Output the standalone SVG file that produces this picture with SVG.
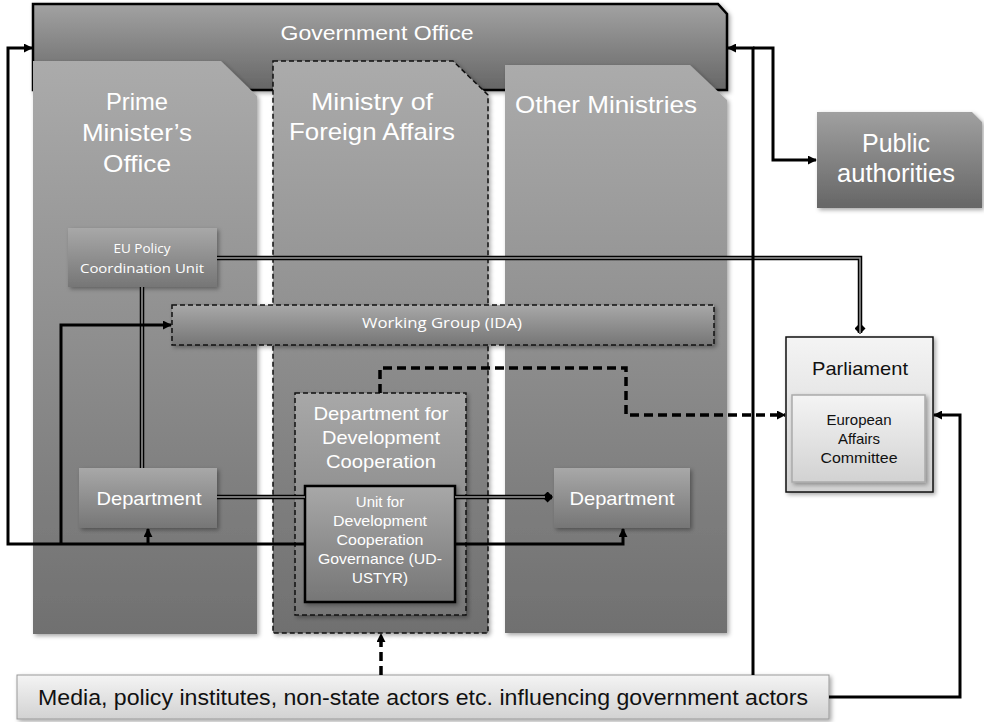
<svg xmlns="http://www.w3.org/2000/svg" width="984" height="722" viewBox="0 0 984 722">
<defs>
<linearGradient id="gGov" x1="0" y1="0" x2="0" y2="1"><stop offset="0" stop-color="#a2a2a2"/><stop offset="1" stop-color="#666"/></linearGradient>
<linearGradient id="gPanel" x1="0" y1="0" x2="0" y2="1"><stop offset="0" stop-color="#ababab"/><stop offset="1" stop-color="#707070"/></linearGradient>
<linearGradient id="gBox" x1="0" y1="0" x2="0" y2="1"><stop offset="0" stop-color="#a8a8a8"/><stop offset="1" stop-color="#767676"/></linearGradient>
<linearGradient id="gPub" x1="0" y1="0" x2="0" y2="1"><stop offset="0" stop-color="#a0a0a0"/><stop offset="1" stop-color="#666"/></linearGradient>
<linearGradient id="gLight" x1="0" y1="0" x2="0" y2="1"><stop offset="0" stop-color="#f4f4f4"/><stop offset="1" stop-color="#d2d2d2"/></linearGradient>
<filter id="sh" x="-10%" y="-10%" width="130%" height="130%"><feDropShadow dx="2" dy="2" stdDeviation="2" flood-color="#000" flood-opacity="0.35"/></filter>
<marker id="arr" viewBox="0 0 10 10" refX="9" refY="5" markerWidth="9" markerHeight="9" markerUnits="userSpaceOnUse" orient="auto"><path d="M0,0 L10,5 L0,10 Z" fill="#000"/></marker>
<marker id="dia" viewBox="0 0 10 10" refX="9" refY="5" markerWidth="11" markerHeight="11" markerUnits="userSpaceOnUse" orient="auto"><path d="M0,5 L5,0 L10,5 L5,10 Z" fill="#000"/></marker>
</defs>
<style>
.w{fill:#fff;font-family:"Liberation Sans",Arial,sans-serif;text-anchor:middle}
.k{fill:#111;font-family:"Liberation Sans",Arial,sans-serif;text-anchor:middle}
.c{fill:#fff;font-family:"Open Sans","Liberation Sans",sans-serif;text-anchor:middle}
.dash{stroke:#111;stroke-width:1.5;stroke-dasharray:5 3}
.ln{fill:none;stroke:#000;stroke-width:3}
.dl{fill:none;stroke:#000;stroke-width:4.5}
.dli{fill:none;stroke:#9c9c9c;stroke-width:1.5}
.dd{fill:none;stroke:#000;stroke-width:3.5;stroke-dasharray:9 5}
</style>

<g id="government-office">
<path d="M33,4 H718 L727,14 V90 H33 Z" fill="url(#gGov)" stroke="#000" stroke-width="2.5" filter="url(#sh)"/>
<text class="w" x="377" y="40" font-size="21" textLength="193" lengthAdjust="spacingAndGlyphs">Government Office</text>
</g>

<g id="pmo">
<path d="M33,61 H221 L257,96 V634 H33 Z" fill="url(#gPanel)" filter="url(#sh)"/>
<text class="w" x="137" y="110" font-size="24" textLength="62" lengthAdjust="spacingAndGlyphs">Prime</text>
<text class="w" x="137" y="141" font-size="24" textLength="110" lengthAdjust="spacingAndGlyphs">Minister’s</text>
<text class="w" x="137" y="172" font-size="24" textLength="68" lengthAdjust="spacingAndGlyphs">Office</text>
</g>

<g id="mfa">
<path d="M273,61 H453 L488,95 V633 H273 Z" fill="url(#gPanel)" class="dash" filter="url(#sh)"/>
<text class="w" x="372" y="110" font-size="24" textLength="122" lengthAdjust="spacingAndGlyphs">Ministry of</text>
<text class="w" x="372" y="140" font-size="24" textLength="166" lengthAdjust="spacingAndGlyphs">Foreign Affairs</text>
</g>

<g id="other-ministries">
<path d="M505,65 H690 L727,100 V633 H505 Z" fill="url(#gPanel)" filter="url(#sh)"/>
<text class="w" x="606" y="113" font-size="24" textLength="182" lengthAdjust="spacingAndGlyphs">Other Ministries</text>
</g>

<g id="public-authorities">
<path d="M817,112 H972 L982,122 V208 H817 Z" fill="url(#gPub)" filter="url(#sh)"/>
<text class="w" x="896" y="152" font-size="25">Public</text>
<text class="w" x="896" y="182" font-size="25" textLength="118" lengthAdjust="spacingAndGlyphs">authorities</text>
</g>

<g id="eu-policy-unit">
<rect x="68" y="228" width="149" height="59" fill="url(#gBox)" filter="url(#sh)"/>
<text class="c" x="142" y="253" font-size="13.5">EU Policy</text>
<text class="c" x="142" y="273" font-size="13.5" textLength="124" lengthAdjust="spacingAndGlyphs">Coordination Unit</text>
</g>

<g id="working-group">
<rect x="172" y="305" width="542" height="40" fill="url(#gBox)" class="dash" filter="url(#sh)"/>
<text class="c" x="442" y="328" font-size="14.5" textLength="160" lengthAdjust="spacingAndGlyphs">Working Group (IDA)</text>
</g>

<g id="dept-dev-coop">
<rect x="295" y="393" width="171" height="222" fill="url(#gBox)" class="dash" filter="url(#sh)"/>
<text class="w" x="381" y="420" font-size="19" textLength="135" lengthAdjust="spacingAndGlyphs">Department for</text>
<text class="w" x="381" y="444" font-size="19" textLength="118" lengthAdjust="spacingAndGlyphs">Development</text>
<text class="w" x="381" y="468" font-size="19" textLength="110" lengthAdjust="spacingAndGlyphs">Cooperation</text>
</g>

<g id="ud-ustyr">
<rect x="305" y="486" width="150" height="116" fill="url(#gBox)" stroke="#000" stroke-width="2.5" filter="url(#sh)"/>
<text class="w" x="380" y="507" font-size="15">Unit for</text>
<text class="w" x="380" y="526" font-size="15" textLength="94" lengthAdjust="spacingAndGlyphs">Development</text>
<text class="w" x="380" y="545" font-size="15" textLength="87" lengthAdjust="spacingAndGlyphs">Cooperation</text>
<text class="w" x="380" y="564" font-size="15" textLength="124" lengthAdjust="spacingAndGlyphs">Governance (UD-</text>
<text class="w" x="380" y="583" font-size="15">USTYR)</text>
</g>

<g id="department-pmo">
<rect x="79" y="468" width="138" height="60" fill="url(#gBox)" filter="url(#sh)"/>
<text class="w" x="149" y="505" font-size="19" textLength="105" lengthAdjust="spacingAndGlyphs">Department</text>
</g>

<g id="department-other">
<rect x="554" y="468" width="136" height="60" fill="url(#gBox)" filter="url(#sh)"/>
<text class="w" x="622" y="505" font-size="19" textLength="105" lengthAdjust="spacingAndGlyphs">Department</text>
</g>

<g id="parliament">
<rect x="786" y="337" width="147" height="155" fill="url(#gLight)" stroke="#111" stroke-width="1.5" filter="url(#sh)"/>
<text class="k" x="860" y="375" font-size="19" textLength="96" lengthAdjust="spacingAndGlyphs">Parliament</text>
</g>

<g id="european-affairs-committee">
<rect x="792" y="395" width="133" height="87" fill="url(#gLight)" stroke="#aaa" stroke-width="1.5" filter="url(#sh)"/>
<text class="k" x="859" y="425" font-size="15">European</text>
<text class="k" x="859" y="444" font-size="15">Affairs</text>
<text class="k" x="859" y="463" font-size="15" textLength="77" lengthAdjust="spacingAndGlyphs">Committee</text>
</g>

<g id="media">
<rect x="17" y="675" width="812" height="44" fill="url(#gLight)" stroke="#999" stroke-width="1" filter="url(#sh)"/>
<text class="k" x="423" y="705" font-size="22" textLength="770" lengthAdjust="spacingAndGlyphs">Media, policy institutes, non-state actors etc. influencing government actors</text>
</g>

<g id="connectors">
<path class="dl" d="M217,258 H860 V333" marker-end="url(#dia)"/>
<path class="dli" d="M217,258 H860 V333"/>
<path class="dl" d="M142,287 V468"/>
<path class="dli" d="M142,287 V468"/>
<path class="dl" d="M217,497 H305"/>
<path class="dli" d="M217,497 H305"/>
<path class="dl" d="M455,497 H552" marker-end="url(#dia)"/>
<path class="dli" d="M455,497 H545"/>
<path class="ln" d="M305,544 H8 V48 H32" marker-end="url(#arr)"/>
<path class="ln" d="M61,544 V325 H171" marker-end="url(#arr)"/>
<path class="ln" d="M148,544 V529" marker-end="url(#arr)"/>
<path class="ln" d="M455,544 H623 V529" marker-end="url(#arr)"/>
<path class="dd" d="M380,393 V368 H626 V415 H785" marker-end="url(#arr)"/>
<path class="dd" d="M381,675 V634" marker-end="url(#arr)"/>
<path class="ln" d="M753,675 V48 H728" marker-end="url(#arr)"/>
<path class="ln" d="M753,48 H773 V160 H816" marker-end="url(#arr)"/>
<path class="ln" d="M829,697 H960 V415 H934" marker-end="url(#arr)"/>
</g>
</svg>
